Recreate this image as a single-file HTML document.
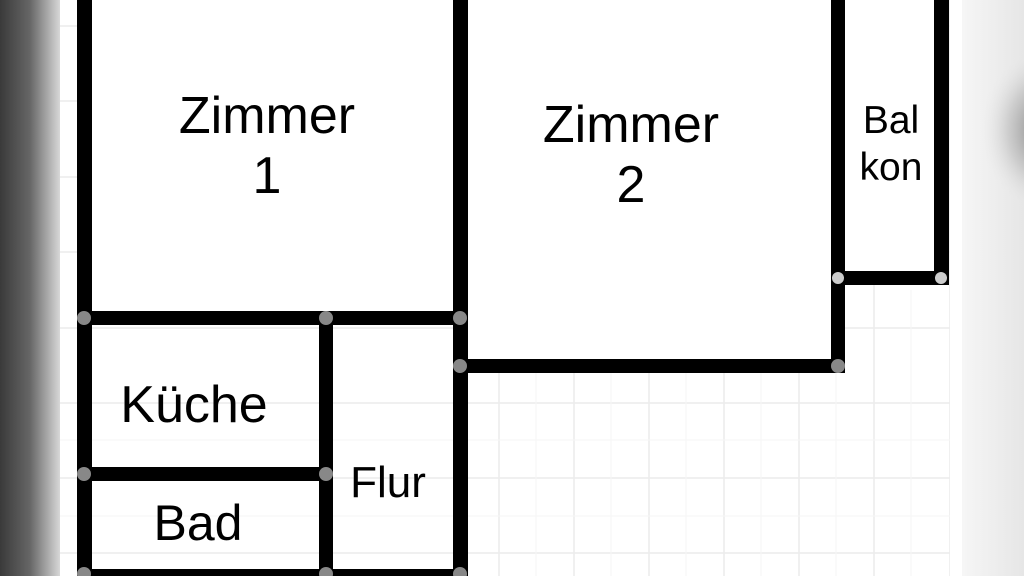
<!DOCTYPE html>
<html><head><meta charset="utf-8"><style>
html,body{margin:0;padding:0;width:1024px;height:576px;overflow:hidden;background:#fff}
</style></head><body>
<svg width="1024" height="576" viewBox="0 0 1024 576" xmlns="http://www.w3.org/2000/svg" style="position:absolute;left:0;top:0">
<defs>
<linearGradient id="lg" x1="0" x2="1" y1="0" y2="0">
<stop offset="0" stop-color="#3a3a3a"/><stop offset="0.5" stop-color="#666"/><stop offset="1" stop-color="#d8d8d8"/>
</linearGradient>
<linearGradient id="rg" x1="0" x2="1" y1="0" y2="0">
<stop offset="0" stop-color="#f6f6f6"/><stop offset="1" stop-color="#e6e6e6"/>
</linearGradient>
<radialGradient id="rb" cx="0.75" cy="0.5" r="0.5">
<stop offset="0" stop-color="#666"/><stop offset="0.6" stop-color="#bbb" stop-opacity="0.6"/><stop offset="1" stop-color="#ededed" stop-opacity="0"/>
</radialGradient>
</defs>
<g stroke="#ececec" stroke-width="1.5">
<line x1="649" y1="0" x2="649" y2="576"/><line x1="724" y1="0" x2="724" y2="576"/>
<line x1="799" y1="0" x2="799" y2="576"/><line x1="874" y1="0" x2="874" y2="576"/>
<line x1="950" y1="0" x2="950" y2="576"/><line x1="574" y1="0" x2="574" y2="576"/>
<line x1="499" y1="0" x2="499" y2="576"/>
<line x1="60" y1="26" x2="960" y2="26"/><line x1="60" y1="101" x2="960" y2="101"/>
<line x1="60" y1="177" x2="960" y2="177"/><line x1="60" y1="252" x2="960" y2="252"/>
<line x1="60" y1="328" x2="960" y2="328"/><line x1="60" y1="403" x2="960" y2="403"/>
<line x1="60" y1="478" x2="960" y2="478"/><line x1="60" y1="553" x2="960" y2="553"/>
</g>
<g stroke="#f5f5f5" stroke-width="1">
<line x1="60" y1="440" x2="960" y2="440"/><line x1="60" y1="516" x2="960" y2="516"/>
<line x1="536" y1="370" x2="536" y2="576"/><line x1="611" y1="370" x2="611" y2="576"/>
<line x1="686" y1="370" x2="686" y2="576"/><line x1="761" y1="370" x2="761" y2="576"/>
<line x1="836" y1="370" x2="836" y2="576"/><line x1="911" y1="290" x2="911" y2="576"/>
</g>
<rect x="0" y="0" width="60" height="576" fill="url(#lg)"/>
<rect x="962" y="0" width="62" height="576" fill="url(#rg)"/>
<ellipse cx="1015" cy="130" rx="70" ry="85" fill="url(#rb)"/>
<rect x="950" y="0" width="12" height="576" fill="#fff"/>
<rect x="91" y="0" width="363" height="311" fill="#fff"/>
<rect x="468" y="0" width="363" height="359" fill="#fff"/>
<rect x="845" y="0" width="89" height="271" fill="#fff"/>
<g fill="#000">
<rect x="77" y="0" width="15" height="576"/>
<rect x="453" y="0" width="15" height="576"/>
<rect x="831" y="0" width="14" height="373"/>
<rect x="934" y="0" width="15" height="285"/>
<rect x="845" y="271" width="104" height="14"/>
<rect x="461" y="359" width="384" height="14"/>
<rect x="77" y="311" width="391" height="14"/>
<rect x="319" y="311" width="14" height="265"/>
<rect x="77" y="467" width="256" height="14"/>
<rect x="77" y="569" width="391" height="7"/>
</g>
<g fill="#888">
<circle cx="84" cy="318" r="7"/><circle cx="326" cy="318" r="7"/><circle cx="460" cy="318" r="7"/>
<circle cx="84" cy="474" r="7"/><circle cx="326" cy="474" r="7"/><circle cx="460" cy="366" r="7"/>
<circle cx="838" cy="366" r="7"/><circle cx="84" cy="574" r="7"/><circle cx="326" cy="574" r="7"/><circle cx="460" cy="574" r="7"/>
<circle cx="838" cy="278" r="6" fill="#ccc"/><circle cx="941" cy="278" r="6" fill="#ccc"/>
</g>
<g font-family="Liberation Sans, Arial, sans-serif" font-size="52" fill="#000" text-anchor="middle">
<text x="267" y="133">Zimmer</text><text x="267" y="193">1</text>
<text x="631" y="142">Zimmer</text><text x="631" y="202">2</text>
<text x="194" y="422">Küche</text>
<text x="198" y="540" font-size="50">Bad</text>
<text x="388" y="497" font-size="44">Flur</text>
<text x="891" y="133" font-size="39">Bal</text>
<text x="891" y="180" font-size="39">kon</text>
</g>
</svg>
</body></html>
